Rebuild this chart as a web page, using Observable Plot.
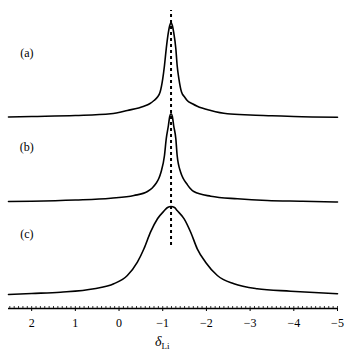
<!DOCTYPE html>
<html>
<head>
<meta charset="utf-8">
<script src="https://cdn.jsdelivr.net/npm/d3@7"></script>
<script src="https://cdn.jsdelivr.net/npm/@observablehq/plot@0.6"></script>
<style>
  html, body { margin: 0; padding: 0; background: #fff; }
  #chart { width: 354px; height: 360px; }
</style>
</head>
<body>
<div id="chart"></div>
<script>
// Spectrum (a)
const ppmA = [2.53, 2.0, 1.0, 0.19, -0.19, -0.57, -0.70, -0.80, -0.88, -0.94, -1.00, -1.04, -1.08, -1.13, -1.16, -1.19, -1.22, -1.25, -1.30, -1.33, -1.37, -1.43, -1.50, -1.56, -1.68, -1.79, -2.10, -2.48, -3.0, -3.5, -4.0, -5.0];
const intA = [0, 0.5, 1.5, 3.2, 6.5, 10.8, 13.3, 16.5, 20, 25, 38.2, 51.5, 68.2, 84.8, 91.5, 94.2, 91.5, 84.8, 68.2, 51.5, 38.2, 25, 20, 16.5, 13.3, 10.8, 6.5, 3.2, 2.0, 1.3, 0.5, -0.3];
// Spectrum (b)
const ppmB = [2.53, 2.0, 1.0, 0.19, -0.34, -0.65, -0.76, -0.84, -0.91, -0.96, -1.04, -1.08, -1.13, -1.16, -1.19, -1.22, -1.25, -1.30, -1.33, -1.41, -1.47, -1.55, -1.62, -1.71, -2.10, -2.71, -3.39, -4.2, -5.0];
const intB = [0, 0.3, 1.5, 3.3, 6, 10, 13.5, 17.7, 23, 29.3, 46, 62.7, 76, 85, 87.7, 85, 76, 62.7, 46, 29.3, 23, 17.7, 13.5, 10, 5.3, 2.7, 1, 0.3, -0.5];
// Spectrum (c)
const ppmC = [2.53, 2.0, 1.34, 0.57, 0.12, -0.19, -0.42, -0.57, -0.72, -0.88, -1.04, -1.11, -1.19, -1.27, -1.33, -1.49, -1.64, -1.79, -1.98, -2.25, -2.63, -3.16, -3.93, -5.0];
const intC = [0, 1, 2.3, 5.7, 10.7, 19, 32.3, 45.7, 62.3, 75.7, 84, 87, 88, 87, 84, 75.7, 62.3, 45.7, 32.3, 19, 10.7, 5.7, 3.3, 0.7];

const seriesLabels = ["(a)", "(b)", "(c)"];
const seriesOffsets = [191.5, 107, 14];
const peakPosition = -1.19;
const majorTicks = [2, 1, 0, -1, -2, -3, -4, -5];

const spectra = [[ppmA, intA], [ppmB, intB], [ppmC, intC]];
const rows = spectra.flatMap(([xs, ys], i) =>
  xs.map((x, j) => ({series: seriesLabels[i], ppm: x, y: ys[j] + seriesOffsets[i]})));

const minorTicks = d3.range(-50, 26).map(d => d / 10).filter(d => d <= 2.53);
const font = "'Liberation Serif', 'Times New Roman', serif";

const plot = Plot.plot({
  width: 354,
  height: 360,
  marginLeft: 8,
  marginRight: 17,
  marginTop: 0,
  marginBottom: 52,
  style: {fontFamily: font, fontSize: "12px", background: "#fff", color: "#000"},
  x: {domain: [2.53, -5]},
  y: {domain: [0, 308], axis: null},
  marks: [
    Plot.ruleX([peakPosition], {y1: 63, y2: 298, stroke: "#000", strokeWidth: 2, strokeDasharray: "3,3"}),
    Plot.line(rows, {x: "ppm", y: "y", z: "series", stroke: "#000", strokeWidth: 1.6, curve: "monotone-x"}),
    Plot.text(seriesLabels, {x: 2.11, y: [255, 161, 74], text: d => d, fontSize: 12, fill: "#000"}),
    Plot.ruleY([0], {stroke: "#000", strokeWidth: 1.3}),
    Plot.ruleX(minorTicks, {y1: 0, y2: 2, stroke: "#000", strokeWidth: 0.8}),
    Plot.axisX({ticks: majorTicks, tickSize: 3, tickPadding: 7, label: null,
      tickFormat: d => d < 0 ? "\u2212" + (-d) : String(d), fontSize: 12})
  ]
});

const svg = d3.select(plot);
const xs = plot.scale("x");
const lx = xs.apply(-1.0);
const t = svg.append("text")
  .attr("x", lx).attr("y", 346)
  .attr("text-anchor", "middle")
  .attr("font-family", font)
  .attr("fill", "#000");
t.append("tspan").attr("font-style", "italic").attr("font-size", 14).text("δ");
t.append("tspan").attr("font-size", 9).attr("dy", 3).text("Li");

document.getElementById("chart").appendChild(plot);
</script>
</body>
</html>
